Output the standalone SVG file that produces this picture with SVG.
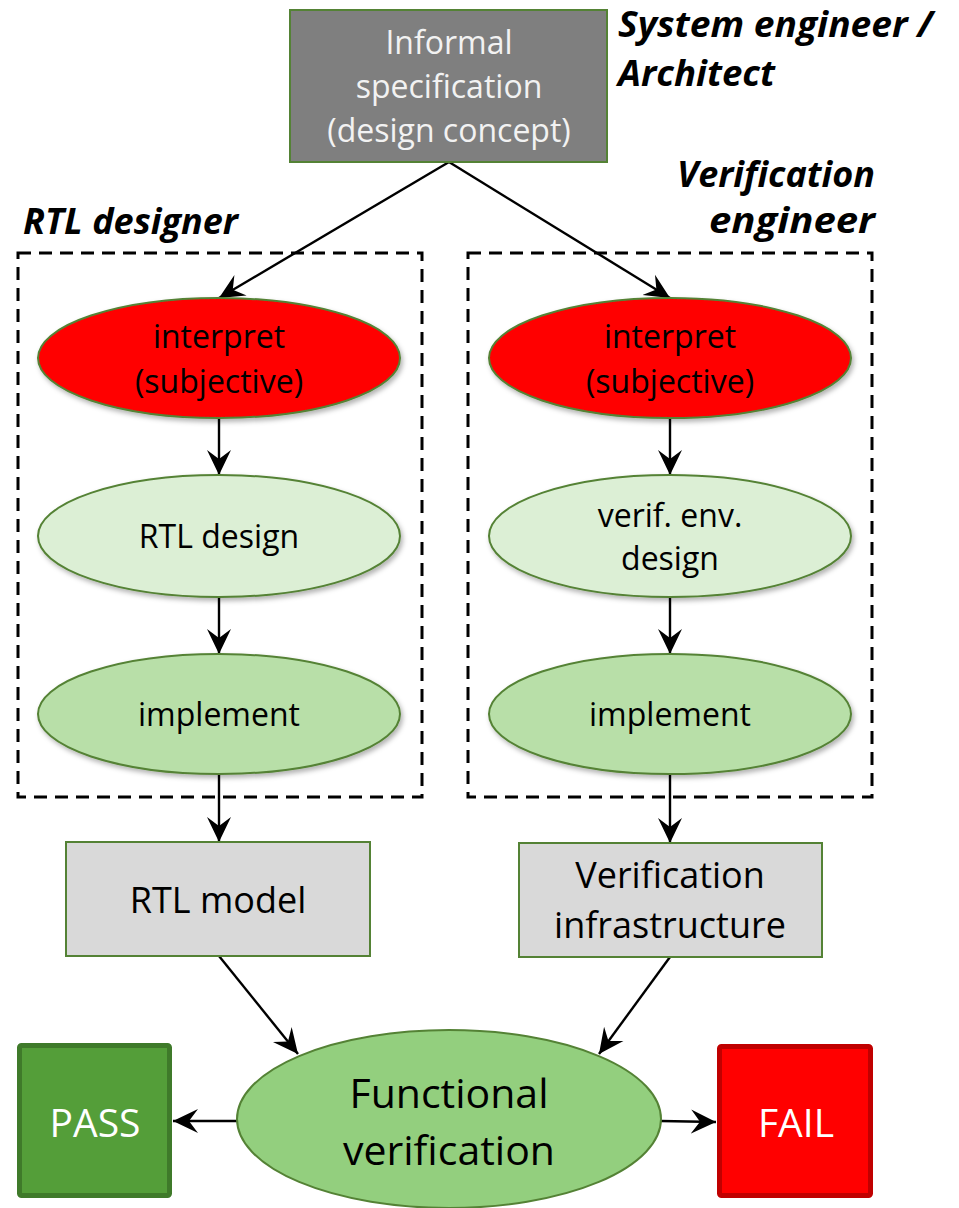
<svg xmlns="http://www.w3.org/2000/svg" width="959" height="1208" viewBox="0 0 959 1208">
  <defs>
    <style>
      .t { font-family: "Open Sans", "Liberation Sans", sans-serif; text-anchor: middle; }
      .role { font-family: "Open Sans", "Liberation Sans", sans-serif; font-weight: bold; font-style: italic; font-size: 35px; fill: #000; }
      .ell { stroke: #548235; stroke-width: 2; }
      .box { fill: #d9d9d9; stroke: #548235; stroke-width: 2; }
      .lane { fill: none; stroke: #000; stroke-width: 3; stroke-dasharray: 13 8; }
      .edge { fill: none; stroke: #000; stroke-width: 2.4; marker-end: url(#arrow); }
    </style>
    <marker id="arrow" markerUnits="userSpaceOnUse" viewBox="0 0 26 26" markerWidth="26" markerHeight="26" refX="25" refY="13" orient="auto">
      <path d="M25,13 L0,1 L9,13 L0,25 Z" fill="#000"/>
    </marker>
    <filter id="shadow" x="-10%" y="-10%" width="125%" height="135%">
      <feDropShadow dx="2" dy="3" stdDeviation="2.5" flood-color="#000" flood-opacity="0.3"/>
    </filter>
  </defs>

  <!-- swim lanes -->
  <rect class="lane" x="18" y="253" width="404" height="544"/>
  <rect class="lane" x="468" y="253" width="404" height="544"/>

  <!-- role labels -->
  <text class="role" x="618" y="37" textLength="315" lengthAdjust="spacingAndGlyphs">System engineer /</text>
  <text class="role" x="618" y="86" textLength="157" lengthAdjust="spacingAndGlyphs">Architect</text>
  <text class="role" x="677" y="187" textLength="198" lengthAdjust="spacingAndGlyphs">Verification</text>
  <text class="role" x="709" y="233" textLength="166" lengthAdjust="spacingAndGlyphs">engineer</text>
  <text class="role" x="23" y="234" textLength="215" lengthAdjust="spacingAndGlyphs">RTL designer</text>

  <!-- connectors -->
  <g id="connectors">
    <line class="edge" x1="449" y1="162" x2="219" y2="298"/>
    <line class="edge" x1="449" y1="162" x2="670" y2="298"/>
    <line class="edge" x1="219" y1="418" x2="219" y2="475"/>
    <line class="edge" x1="219" y1="597" x2="219" y2="654"/>
    <line class="edge" x1="219" y1="774" x2="219" y2="842"/>
    <line class="edge" x1="670" y1="418" x2="670" y2="475"/>
    <line class="edge" x1="670" y1="597" x2="670" y2="654"/>
    <line class="edge" x1="670" y1="774" x2="670" y2="843"/>
    <line class="edge" x1="219" y1="956" x2="298" y2="1054"/>
    <line class="edge" x1="670" y1="957" x2="599" y2="1054"/>
    <line class="edge" x1="237" y1="1121" x2="173" y2="1121"/>
    <line class="edge" x1="661" y1="1121" x2="716" y2="1122"/>
  </g>

  <!-- informal specification -->
  <g id="spec">
    <rect x="290" y="10" width="317" height="152" fill="#7f7f7f" stroke="#548235" stroke-width="2"/>
    <text class="t" x="449" y="54" font-size="32" fill="#f2f2f2">Informal</text>
    <text class="t" x="449" y="98" font-size="32" fill="#f2f2f2">specification</text>
    <text class="t" x="449" y="142" font-size="32" fill="#f2f2f2">(design concept)</text>
  </g>

  <!-- RTL designer lane -->
  <g id="rtl-interpret">
    <ellipse class="ell" cx="219" cy="358" rx="181" ry="60" fill="#ff0000" filter="url(#shadow)"/>
    <text class="t" x="219" y="348" font-size="32">interpret</text>
    <text class="t" x="219" y="393" font-size="32">(subjective)</text>
  </g>
  <g id="rtl-design">
    <ellipse class="ell" cx="219" cy="536" rx="181" ry="61" fill="#dcefd5" filter="url(#shadow)"/>
    <text class="t" x="219" y="548" font-size="32">RTL design</text>
  </g>
  <g id="rtl-implement">
    <ellipse class="ell" cx="219" cy="714" rx="181" ry="60" fill="#b8dfa8" filter="url(#shadow)"/>
    <text class="t" x="219" y="726" font-size="32">implement</text>
  </g>

  <!-- verification engineer lane -->
  <g id="ver-interpret">
    <ellipse class="ell" cx="670" cy="358" rx="181" ry="60" fill="#ff0000" filter="url(#shadow)"/>
    <text class="t" x="670" y="348" font-size="32">interpret</text>
    <text class="t" x="670" y="393" font-size="32">(subjective)</text>
  </g>
  <g id="ver-design">
    <ellipse class="ell" cx="670" cy="536" rx="181" ry="61" fill="#dcefd5" filter="url(#shadow)"/>
    <text class="t" x="670" y="527" font-size="32">verif. env.</text>
    <text class="t" x="670" y="570" font-size="32">design</text>
  </g>
  <g id="ver-implement">
    <ellipse class="ell" cx="670" cy="714" rx="181" ry="60" fill="#b8dfa8" filter="url(#shadow)"/>
    <text class="t" x="670" y="726" font-size="32">implement</text>
  </g>

  <!-- outputs -->
  <g id="rtl-model">
    <rect class="box" x="66" y="842" width="304" height="114"/>
    <text class="t" x="218" y="913" font-size="36">RTL model</text>
  </g>
  <g id="ver-infra">
    <rect class="box" x="519" y="843" width="303" height="114"/>
    <text class="t" x="670" y="888" font-size="36">Verification</text>
    <text class="t" x="670" y="938" font-size="36">infrastructure</text>
  </g>

  <!-- functional verification -->
  <g id="func-ver">
    <ellipse cx="449" cy="1119" rx="212" ry="89" fill="#93cf7e" stroke="#548235" stroke-width="2"/>
    <text class="t" x="449" y="1108" font-size="41">Functional</text>
    <text class="t" x="449" y="1165" font-size="41">verification</text>
  </g>

  <!-- results -->
  <g id="pass">
    <rect x="19.5" y="1045.5" width="150" height="150" rx="2" fill="#549e39" stroke="#3f7a2a" stroke-width="5"/>
    <text class="t" x="95" y="1137" font-size="39" fill="#fff">PASS</text>
  </g>
  <g id="fail">
    <rect x="719.5" y="1046.5" width="151" height="149" rx="2" fill="#ff0000" stroke="#c00000" stroke-width="5"/>
    <text class="t" x="796" y="1137" font-size="39" fill="#fff">FAIL</text>
  </g>
</svg>
